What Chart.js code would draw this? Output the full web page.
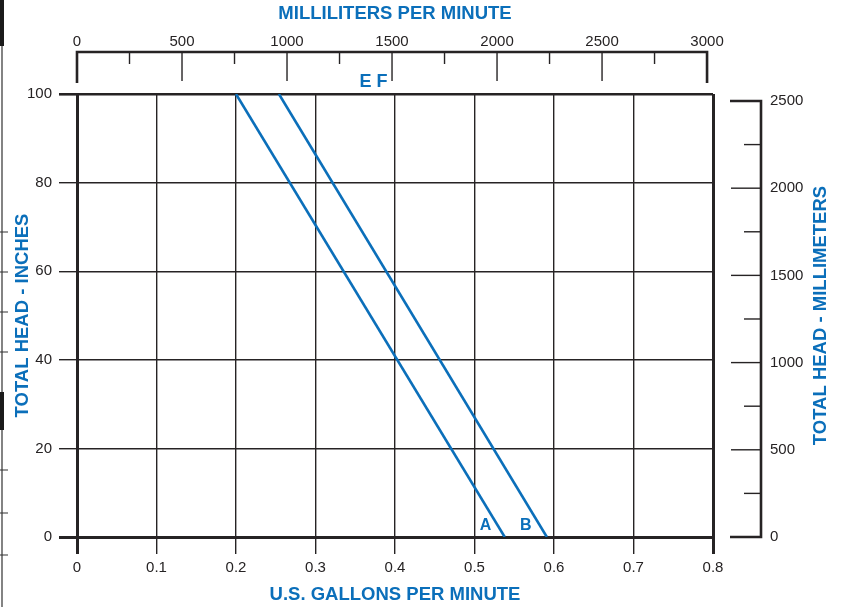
<!DOCTYPE html>
<html>
<head>
<meta charset="utf-8">
<title>Total head vs flow</title>
<script src="https://cdn.jsdelivr.net/npm/chart.js@4.4.1/dist/chart.umd.min.js"></script>
<style>
  html, body { margin: 0; padding: 0; background: #ffffff; }
  #wrap { width: 845px; height: 607px; position: relative; }
</style>
</head>
<body>
<div id="wrap"><canvas id="headChart"></canvas></div>
<script>
// Curve A and B (total head in inches vs US gallons per minute)
const gallonsA = [0.200, 0.538];
const headA = [100, 0];
const gallonsB = [0.254, 0.591];
const headB = [100, 0];

// Tick labels
const gpmTicks = [0, 0.1, 0.2, 0.3, 0.4, 0.5, 0.6, 0.7, 0.8];
const inchTicks = [0, 20, 40, 60, 80, 100];
const mlTicks = [0, 500, 1000, 1500, 2000, 2500, 3000];
const mlMinorTicks = [250, 750, 1250, 1750, 2250, 2750];
const mmTicks = [0, 500, 1000, 1500, 2000, 2500];
const mmMinorTicks = [250, 750, 1250, 1750, 2250];

// Text labels on the chart
const curveLabels = ['A', 'B'];
const curveLabelGallons = [0.514, 0.5645];
const curveLabelHead = [2.5, 2.5];
const topLabel = 'E F';
const topLabelGallons = 0.373;

const ML_PER_GAL = 3785.41;
const MM_PER_INCH = 25.4;

const BLUE = '#0b6fba';
const INK = '#262324';
const FONT = "'Liberation Sans', Arial, Helvetica, sans-serif";

function toPoints(xs, ys) {
  return xs.map(function(x, i) { return { x: x, y: ys[i] }; });
}

function fixedTicks(list) {
  return function(scale) {
    scale.ticks = list.map(function(v) { return { value: v }; });
  };
}

// Draws the offset top and right axes, right title, labels and scan edge
const decorPlugin = {
  id: 'decor',
  afterDatasetsDraw: function(chart) {
    const c = chart.ctx;
    const area = chart.chartArea;
    const x = chart.scales.x;
    const y = chart.scales.y;
    const x2 = chart.scales.x2;
    const y2 = chart.scales.y2;

    c.save();
    c.strokeStyle = INK;
    c.lineCap = 'butt';

    // top milliliter axis bracket
    const topLine = 52;
    const left = x2.getPixelForValue(mlTicks[0]);
    const right = x2.getPixelForValue(mlTicks[mlTicks.length - 1]);
    c.lineWidth = 2.6;
    c.beginPath();
    c.moveTo(left, topLine + 31);
    c.lineTo(left, topLine);
    c.lineTo(right, topLine);
    c.lineTo(right, topLine + 31);
    c.stroke();
    c.lineWidth = 1.4;
    mlTicks.slice(1, -1).forEach(function(v) {
      const px = x2.getPixelForValue(v);
      c.beginPath();
      c.moveTo(px, topLine);
      c.lineTo(px, topLine + 29);
      c.stroke();
    });
    mlMinorTicks.forEach(function(v) {
      const px = x2.getPixelForValue(v);
      c.beginPath();
      c.moveTo(px, topLine);
      c.lineTo(px, topLine + 12);
      c.stroke();
    });

    // right millimeter axis bracket
    const axisX = 761;
    const yTop = y2.getPixelForValue(mmTicks[mmTicks.length - 1]);
    const yBot = y2.getPixelForValue(mmTicks[0]);
    c.lineWidth = 2.6;
    c.beginPath();
    c.moveTo(axisX - 31, yTop);
    c.lineTo(axisX, yTop);
    c.lineTo(axisX, yBot);
    c.lineTo(axisX - 31, yBot);
    c.stroke();
    c.lineWidth = 1.4;
    mmTicks.slice(1, -1).forEach(function(v) {
      const py = y2.getPixelForValue(v);
      c.beginPath();
      c.moveTo(axisX - 30, py);
      c.lineTo(axisX, py);
      c.stroke();
    });
    mmMinorTicks.forEach(function(v) {
      const py = y2.getPixelForValue(v);
      c.beginPath();
      c.moveTo(axisX - 17, py);
      c.lineTo(axisX, py);
      c.stroke();
    });

    // right title, reading bottom to top
    c.fillStyle = BLUE;
    c.font = 'bold 18.5px ' + FONT;
    c.textAlign = 'center';
    c.textBaseline = 'middle';
    c.translate(821, (area.top + area.bottom) / 2);
    c.rotate(-Math.PI / 2);
    c.fillText('TOTAL HEAD - MILLIMETERS', 0, 0);
    c.setTransform(1, 0, 0, 1, 0, 0);
    c.restore();

    c.save();
    // curve labels
    c.fillStyle = BLUE;
    c.textAlign = 'center';
    c.textBaseline = 'middle';
    c.font = 'bold 16px ' + FONT;
    curveLabels.forEach(function(t, i) {
      c.fillText(t, x.getPixelForValue(curveLabelGallons[i]), y.getPixelForValue(curveLabelHead[i]));
    });
    c.font = 'bold 18px ' + FONT;
    c.fillText(topLabel, x.getPixelForValue(topLabelGallons), area.top - 12);

    // scanned page edge on the far left
    c.strokeStyle = '#333333';
    c.lineWidth = 1.2;
    c.beginPath();
    c.moveTo(2, 0);
    c.lineTo(2, 607);
    [232, 272, 312, 352, 470, 513, 555].forEach(function(py) {
      c.moveTo(0, py);
      c.lineTo(8, py);
    });
    c.stroke();
    c.fillStyle = '#1a1a1a';
    c.fillRect(0, 0, 4, 46);
    c.fillRect(0, 392, 4, 38);
    c.restore();
  }
};

const ctx = document.getElementById('headChart');

new Chart(ctx, {
  type: 'scatter',
  data: {
    datasets: [
      {
        label: 'A',
        data: toPoints(gallonsA, headA),
        showLine: true,
        borderColor: BLUE,
        borderWidth: 2.6,
        pointRadius: 0,
        fill: false
      },
      {
        label: 'B',
        data: toPoints(gallonsB, headB),
        showLine: true,
        borderColor: BLUE,
        borderWidth: 2.6,
        pointRadius: 0,
        fill: false
      }
    ]
  },
  options: {
    responsive: true,
    maintainAspectRatio: false,
    animation: false,
    devicePixelRatio: 1,
    layout: { padding: 0 },
    plugins: {
      legend: { display: false },
      tooltip: { enabled: false }
    },
    scales: {
      x: {
        type: 'linear',
        position: 'bottom',
        min: 0,
        max: 0.8,
        afterBuildTicks: fixedTicks(gpmTicks),
        afterFit: function(s) { s.height = 70; },
        grid: {
          color: INK,
          tickLength: 17,
          lineWidth: function(c) {
            const v = c.tick ? c.tick.value : null;
            return (v === 0 || v === 0.8) ? 3 : 1.4;
          }
        },
        border: { color: INK, width: 3 },
        ticks: {
          color: INK,
          padding: 5,
          font: { family: FONT, size: 15 },
          callback: function(v) { return String(+v.toFixed(1)); }
        },
        title: {
          display: true,
          text: 'U.S. GALLONS PER MINUTE',
          color: BLUE,
          font: { family: FONT, size: 18.5, weight: 'bold' },
          padding: { top: 0, bottom: 1 }
        }
      },
      y: {
        type: 'linear',
        position: 'left',
        min: 0,
        max: 100,
        afterBuildTicks: fixedTicks(inchTicks),
        afterFit: function(s) { s.width = 77; },
        grid: {
          color: INK,
          tickLength: 18,
          lineWidth: function(c) {
            const v = c.tick ? c.tick.value : null;
            if (v === 0) return 3;
            if (v === 100) return 2.6;
            return 1.4;
          }
        },
        border: { color: INK, width: 3 },
        ticks: {
          color: INK,
          padding: 7,
          font: { family: FONT, size: 15 },
          callback: function(v) { return String(v); }
        },
        title: {
          display: true,
          text: 'TOTAL HEAD - INCHES',
          color: BLUE,
          font: { family: FONT, size: 18.5, weight: 'bold' },
          padding: { top: 12, bottom: 0 }
        }
      },
      x2: {
        type: 'linear',
        position: 'top',
        min: 0,
        max: 0.8 * ML_PER_GAL,
        afterBuildTicks: fixedTicks(mlTicks),
        afterFit: function(s) { s.height = 94; },
        grid: { display: false, drawTicks: false },
        border: { display: false },
        ticks: {
          color: INK,
          padding: 43,
          font: { family: FONT, size: 15 },
          callback: function(v) { return String(v); }
        },
        title: {
          display: true,
          text: 'MILLILITERS PER MINUTE',
          color: BLUE,
          font: { family: FONT, size: 18.5, weight: 'bold' },
          padding: { top: 3, bottom: 0 }
        }
      },
      y2: {
        type: 'linear',
        position: 'right',
        min: 0,
        max: 100 * MM_PER_INCH,
        afterBuildTicks: fixedTicks(mmTicks),
        afterFit: function(s) { s.width = 132; },
        grid: { display: false, drawTicks: false },
        border: { display: false },
        ticks: {
          color: INK,
          padding: 57,
          font: { family: FONT, size: 15 },
          callback: function(v) { return String(v); }
        }
      }
    }
  },
  plugins: [decorPlugin]
});
</script>
</body>
</html>
